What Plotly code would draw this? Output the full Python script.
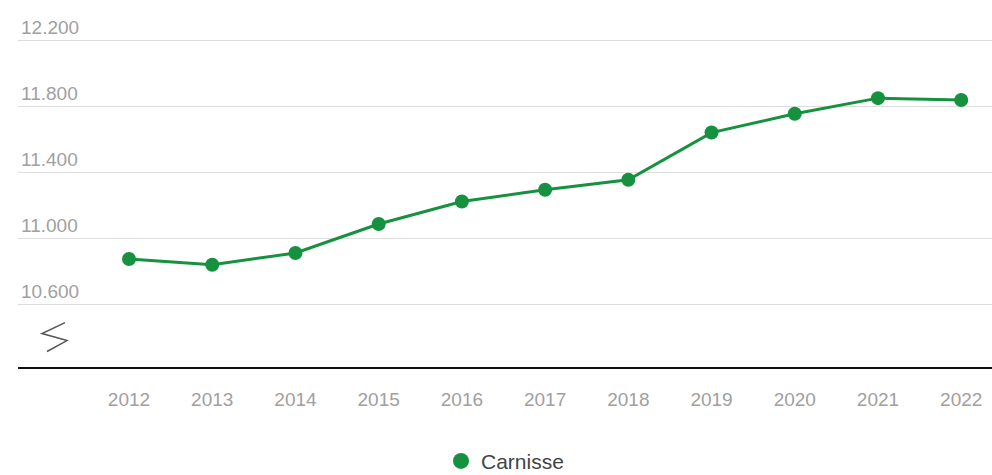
import plotly.graph_objects as go

years = [2012, 2013, 2014, 2015, 2016, 2017, 2018, 2019, 2020, 2021, 2022]
values = [10877, 10842, 10913, 11089, 11226, 11297, 11358, 11644, 11758, 11853, 11842]
ytick_vals = [10600, 11000, 11400, 11800, 12200]
ytick_text = ["10.600", "11.000", "11.400", "11.800", "12.200"]
series_name = "Carnisse"

GREEN = "#16913f"
L, T, B = 18, 10, 107.5
W, H = 992, 475
PW, PH = W - L, H - T - B

def px(x):
    return (x - L) / PW

def py(y):
    return (H - B - y) / PH

fig = go.Figure()
fig.add_trace(go.Scatter(
    x=years, y=values, mode="lines+markers", name=series_name,
    line=dict(color=GREEN, width=3),
    marker=dict(color=GREEN, size=14),
    showlegend=False, hoverinfo="x+y",
))
fig.add_trace(go.Scatter(
    x=[None], y=[None], mode="markers", name=series_name,
    marker=dict(color=GREEN, size=21), showlegend=True,
))

# axis break glyph
pts = [(65, 323), (42, 334), (67, 341), (47, 352)]
path = "M " + " L ".join(f"{px(a):.5f},{py(b):.5f}" for a, b in pts)
fig.add_shape(type="path", path=path, xref="paper", yref="paper",
              line=dict(color="#555555", width=1.5))

fig.update_layout(
    width=W, height=H,
    margin=dict(l=L, r=0, t=T, b=B, autoexpand=False),
    paper_bgcolor="white", plot_bgcolor="white",
    font=dict(family="Liberation Sans, Arial, sans-serif"),
    legend=dict(orientation="h", x=0.5, xanchor="center", y=-0.264, yanchor="middle",
                font=dict(size=21, color="#444444"), itemwidth=30),
    xaxis=dict(
        range=[2012 - 1.334, 2012 + 10.37],
        tickvals=years, ticktext=[str(y) for y in years],
        showgrid=False, zeroline=False, automargin=False,
        showline=True, linecolor="#111111", linewidth=2,
        ticks="", ticklabelstandoff=14,
        tickfont=dict(size=19, color="#a0a0a0"),
    ),
    yaxis=dict(
        range=[10221, 12388],
        tickvals=ytick_vals, ticktext=ytick_text,
        ticklabelposition="inside top", automargin=False,
        showgrid=True, gridcolor="#dddddd", gridwidth=1,
        zeroline=False, showline=False, ticks="",
        tickfont=dict(size=19, color="#a0a0a0"),
    ),
)

fig.write_html("out.html", config={"displayModeBar": False},
               post_script="document.body.style.margin='0';")
